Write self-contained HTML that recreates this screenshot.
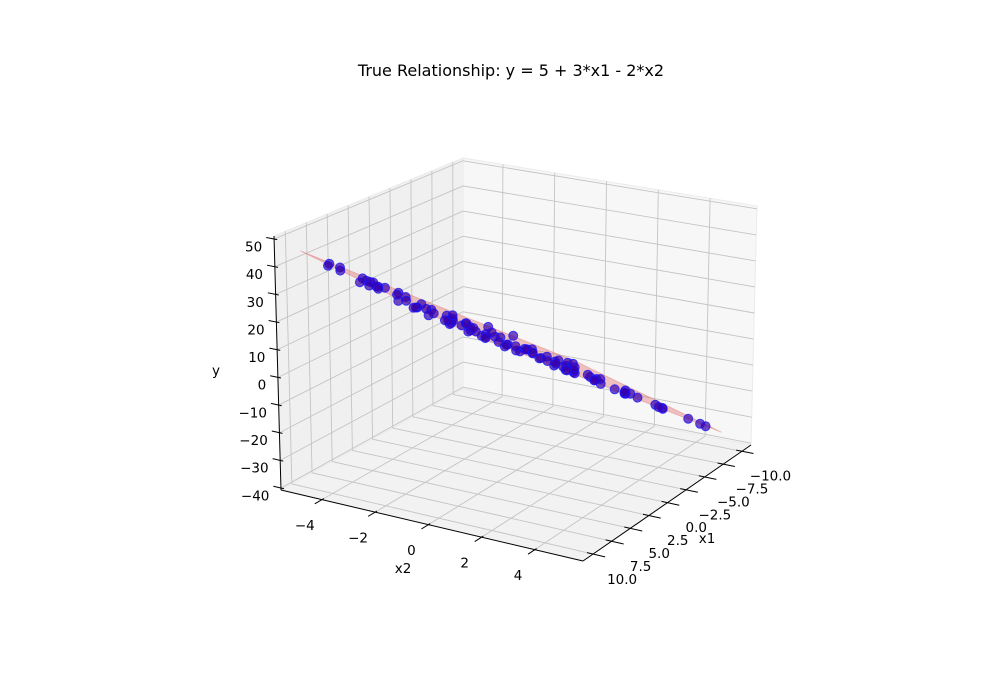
<!DOCTYPE html>
<html><head><meta charset="utf-8"><style>
html,body{margin:0;padding:0;background:#fff;}
svg{display:block;font-family:"DejaVu Sans","Liberation Sans",sans-serif;}
</style></head><body>
<svg id="chart" width="1000" height="700" viewBox="0 0 1000 700">
<text x="511" y="76" font-size="16" text-anchor="middle">True Relationship: y = 5 + 3*x1 - 2*x2</text>
<g id="panes"></g>
<g id="grid"></g>
<g id="axes"></g>
<g id="surface"></g>
<g id="points"></g>
<text x="216" y="375" font-size="13.5" text-anchor="middle">y</text>
<text x="403" y="573" font-size="13.5" text-anchor="middle">x2</text>
<text x="707" y="543" font-size="13.5" text-anchor="middle">x1</text>
</svg>
<script>
const x1Ticks = [-10, -7.5, -5, -2.5, 0, 2.5, 5, 7.5, 10];
const x1TickLabels = ["\u221210.0","\u22127.5","\u22125.0","\u22122.5","0.0","2.5","5.0","7.5","10.0"];
const x2Ticks = [-4, -2, 0, 2, 4];
const x2TickLabels = ["\u22124","\u22122","0","2","4"];
const yTicks = [-40, -30, -20, -10, 0, 10, 20, 30, 40, 50];
const yTickLabels = ["\u221240","\u221230","\u221220","\u221210","0","10","20","30","40","50"];
const planeCoef = [5, 3, -2];
const planeX1 = [-10, 10];
const planeX2 = [-5, 5];
const ptX1 = [8.9,8.6,7.6,7.4,7.9,7.2,7.5,6.8,6.3,6.0,5.6,5.2,4.9,4.5,4.1,3.8,3.5,3.1,2.8,2.4,2.1,1.8,1.5,1.2,0.9,0.6,0.3,0.0,-0.3,-0.6,-0.9,-1.2,-1.5,-1.8,-2.1,-2.4,-2.7,-3.0,-3.3,-3.6,-3.9,-4.2,-4.5,-4.8,-5.1,-5.4,-5.7,-6.0,-6.3,-6.6,-6.9,-7.2,-7.5,-7.8,-8.1,-8.4,-8.7,-9.0,-8.9,-9.6,-9.2,2.6,1.0,-1.0,4.3,5.9,7.0,-2.2,3.3,8.9,9.9,-5.0,-7.0,
 1.4,0.2,-0.8,2.2,3.0,-1.6,1.9,3.7,4.6,-2.9,-3.4,0.5,-0.2,2.9,5.3,-4.0,-4.6,1.1,-1.3,3.9,6.5,5.0,-5.9,-6.4,0.7,2.5,-2.5,4.0,-3.8,6.6,7.1];
const ptX2 = [-4.3,-4.0,-3.2,-3.4,-3.0,-3.6,-2.2,-2.9,-3.3,-1.8,-2.5,-1.1,-3.8,-0.6,-2.0,-4.4,0.4,-1.5,1.2,-2.7,0.9,-0.3,2.3,-3.4,1.7,-1.0,3.1,-2.1,0.5,2.6,-4.1,1.4,-0.8,3.8,-2.4,0.2,4.5,-1.3,2.0,-3.6,1.0,-0.4,3.3,-2.8,0.7,4.0,-1.6,2.4,-4.5,1.8,-0.2,3.5,-2.3,0.9,4.7,-1.1,2.9,-3.2,4.0,1.3,4.6,3.9,4.4,-4.8,2.8,3.6,4.1,-4.6,-4.9,1.5,2.7,-4.9,-4.0,
 -2.0,0.0,-1.8,1.0,2.0,1.0,-1.2,-0.8,1.9,0.3,-2.2,-3.0,2.1,-3.3,0.6,-1.9,1.6,3.0,-3.0,3.3,-0.5,-3.0,-3.0,0.0,0.8,-0.9,-3.5,-4.0,3.0,-4.6,-4.9];
const ptY = [40.3,39.1,34.0,33.8,34.6,34.0,31.9,31.4,30.3,26.4,27.1,22.4,27.5,19.6,21.2,25.1,14.8,17.5,10.9,17.7,9.4,11.1,4.9,15.1,4.4,8.9,-0.3,9.1,3.2,-2.0,10.6,-1.5,2.1,-7.9,3.4,-2.5,-12.2,-1.4,-8.8,1.5,-8.8,-6.8,-15.0,-3.8,-11.8,-19.1,-8.9,-17.9,-4.9,-18.4,-15.3,-23.7,-12.9,-20.2,-28.7,-18.0,-26.9,-15.6,-29.6,-26.4,-31.9,5.0,-0.8,11.6,12.3,15.5,17.8,7.6,24.7,28.7,29.3,-0.2,-8.0,
 13.1,5.7,6.1,9.5,10.1,-1.8,13.1,17.8,15.1,-4.3,-0.8,12.6,0.2,20.3,19.7,-3.1,-12.0,2.4,7.0,10.1,25.6,26.1,-6.8,-14.3,5.6,14.2,4.5,25.0,-12.3,34.1,36.0];

// projection: trilinear interpolation of the box corners
const LIM = {x1:[-11.22,11.35], x2:[-5.54,5.81], y:[-40.7,51.1]};
const C = {
 '000':[463,389],'001':[463,158],
 '010':[751,445],'011':[757,206],
 '100':[281,490],'101':[274,236],
 '110':[583,561],'111':[589,296]
};
function projN(a,b,c){
  let X=0,Y=0;
  for(const i of [0,1])for(const j of [0,1])for(const k of [0,1]){
    const w=(i?a:1-a)*(j?b:1-b)*(k?c:1-c);
    const p=C[''+i+j+k]; X+=w*p[0]; Y+=w*p[1];
  }
  return [X,Y];
}
const na=v=>(v-LIM.x1[0])/(LIM.x1[1]-LIM.x1[0]);
const nb=v=>(v-LIM.x2[0])/(LIM.x2[1]-LIM.x2[0]);
const nc=v=>(v-LIM.y[0])/(LIM.y[1]-LIM.y[0]);
const proj=(x1,x2,y)=>projN(na(x1),nb(x2),nc(y));
const NS='http://www.w3.org/2000/svg';
function mk(tag,attrs,parent){const e=document.createElementNS(NS,tag);for(const k in attrs)e.setAttribute(k,attrs[k]);parent.appendChild(e);return e;}
const pts=a=>a.map(p=>p[0].toFixed(1)+','+p[1].toFixed(1)).join(' ');

const panes=document.getElementById('panes');
let e;
e=mk('polygon',{points:pts([projN(1,0,0),projN(0,0,0),projN(0,0,1),projN(1,0,1)]),fill:'#f0f0f0',stroke:'#ebebeb'},panes);


e=mk('polygon',{points:pts([projN(0,0,0),projN(0,1,0),projN(0,1,1),projN(0,0,1)]),fill:'#f7f7f7',stroke:'#ebebeb'},panes);


e=mk('polygon',{points:pts([projN(0,0,0),projN(1,0,0),projN(1,1,0),projN(0,1,0)]),fill:'#f2f2f2',stroke:'#ebebeb'},panes);



const grid=document.getElementById('grid');
function gl(p,q,name){const l=mk('line',{x1:p[0],y1:p[1],x2:q[0],y2:q[1],stroke:'#c4c4c4','stroke-width':0.9},grid);}
x1Ticks.forEach(t=>{const a=na(t);gl(projN(a,0,0),projN(a,0,1),'grid-x1-wall');gl(projN(a,0,0),projN(a,1,0),'grid-x1-floor');});
x2Ticks.forEach(t=>{const b=nb(t);gl(projN(0,b,0),projN(0,b,1),'grid-x2-wall');gl(projN(0,b,0),projN(1,b,0),'grid-x2-floor');});
yTicks.forEach(t=>{const c=nc(t);gl(projN(1,0,c),projN(0,0,c),'grid-y-left');gl(projN(0,0,c),projN(0,1,c),'grid-y-right');});

const axes=document.getElementById('axes');
function al(p,q,name,w){const l=mk('line',{x1:p[0],y1:p[1],x2:q[0],y2:q[1],stroke:'#000','stroke-width':w},axes);}
function tl(x,y,s,anchor,name){const t=mk('text',{x:x,y:y,'font-size':13.5,'text-anchor':anchor},axes);t.textContent=s;}
al(projN(1,0,0),projN(1,0,1),'y-axis-line',1);
al(projN(1,0,0),projN(1,1,0),'x2-axis-line',1);
al(projN(1,1,0),projN(0,1,0),'x1-axis-line',1);
yTicks.forEach((t,i)=>{const c=nc(t);const p=projN(1,-0.025,c),q=projN(1,0.01,c);al(p,q,'y-tick',1);tl(p[0]-4,p[1]+14,yTickLabels[i],'end','y-tick-label');});
x2Ticks.forEach((t,i)=>{const b=nb(t);const p=projN(1.04,b,0),q=projN(0.99,b,0);al(p,q,'x2-tick',1);tl(p[0]-10,p[1]+26,x2TickLabels[i],'middle','x2-tick-label');});
x1Ticks.forEach((t,i)=>{const a=na(t);const p=projN(a,1.04,0),q=projN(a,0.98,0);al(p,q,'x1-tick',1);tl(p[0]+17,p[1]+27,x1TickLabels[i],'middle','x1-tick-label');});

const surf=document.getElementById('surface');
const pz=(a,b)=>planeCoef[0]+planeCoef[1]*a+planeCoef[2]*b;
const sp=[[planeX1[0],planeX2[0]],[planeX1[1],planeX2[0]],[planeX1[1],planeX2[1]],[planeX1[0],planeX2[1]]].map(v=>proj(v[0],v[1],pz(v[0],v[1])));
e=mk('polygon',{points:pts(sp),fill:'rgba(225,110,110,0.4)',stroke:'rgba(225,110,110,0.4)','stroke-width':1},surf);



const pg=document.getElementById('points');
ptX1.forEach((v,i)=>{
  const p=proj(v,ptX2[i],ptY[i]);
  const c=mk('circle',{cx:p[0].toFixed(1),cy:p[1].toFixed(1),r:4.5,fill:'rgba(55,0,170,0.7)',stroke:'rgba(20,20,255,0.75)','stroke-width':1},pg);
  
  
});
</script>
</body></html>
